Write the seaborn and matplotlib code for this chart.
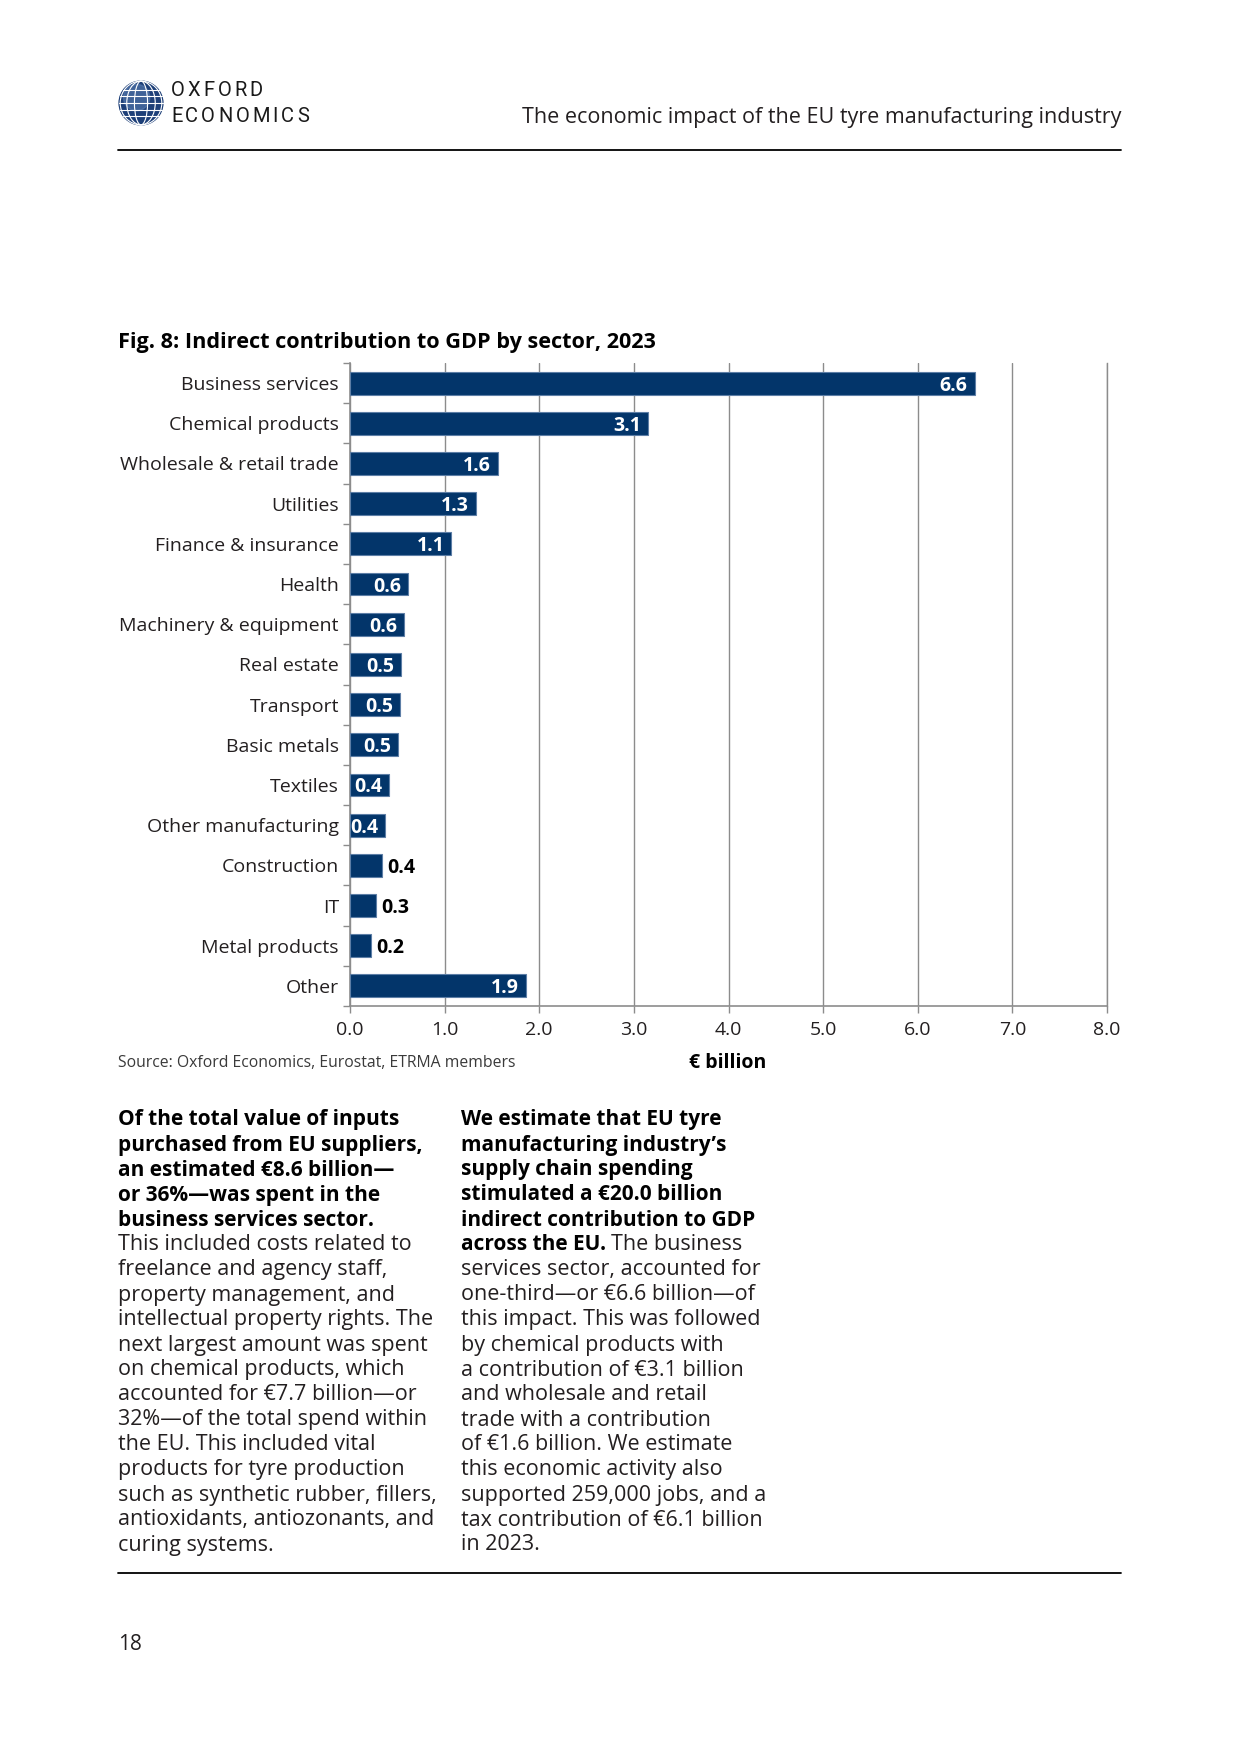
import matplotlib
matplotlib.use("Agg")
import matplotlib.pyplot as plt
from matplotlib.patches import Circle, Ellipse
import seaborn as sns
import pandas as pd

# ---------------- data ----------------
categories = ["Business services", "Chemical products", "Wholesale & retail trade",
              "Utilities", "Finance & insurance", "Health", "Machinery & equipment",
              "Real estate", "Transport", "Basic metals", "Textiles",
              "Other manufacturing", "Construction", "IT", "Metal products", "Other"]
values = [6.6, 3.15, 1.56, 1.33, 1.07, 0.61, 0.57, 0.54, 0.53, 0.51, 0.41,
          0.37, 0.34, 0.27, 0.22, 1.86]
value_labels = ["6.6", "3.1", "1.6", "1.3", "1.1", "0.6", "0.6", "0.5", "0.5",
                "0.5", "0.4", "0.4", "0.4", "0.3", "0.2", "1.9"]
label_inside = [True] * 12 + [False, False, False, True]
x_ticks = [0, 1, 2, 3, 4, 5, 6, 7, 8]
x_ticklabels = ["0.0", "1.0", "2.0", "3.0", "4.0", "5.0", "6.0", "7.0", "8.0"]

title = "Fig. 8: Indirect contribution to GDP by sector, 2023"
header = "The economic impact of the EU tyre manufacturing industry"
source = "Source: Oxford Economics, Eurostat, ETRMA members"
xlabel = "€ billion"

col1_lines = [
    ("Of the total value of inputs", ""),
    ("purchased from EU suppliers,", ""),
    ("an estimated €8.6 billion—", ""),
    ("or 36%—was spent in the", ""),
    ("business services sector.", ""),
    ("", "This included costs related to"),
    ("", "freelance and agency staff,"),
    ("", "property management, and"),
    ("", "intellectual property rights. The"),
    ("", "next largest amount was spent"),
    ("", "on chemical products, which"),
    ("", "accounted for €7.7 billion—or"),
    ("", "32%—of the total spend within"),
    ("", "the EU. This included vital"),
    ("", "products for tyre production"),
    ("", "such as synthetic rubber, fillers,"),
    ("", "antioxidants, antiozonants, and"),
    ("", "curing systems."),
]
col2_lines = [
    ("We estimate that EU tyre", ""),
    ("manufacturing industry’s", ""),
    ("supply chain spending", ""),
    ("stimulated a €20.0 billion", ""),
    ("indirect contribution to GDP", ""),
    ("across the EU.", "The business"),
    ("", "services sector, accounted for"),
    ("", "one-third—or €6.6 billion—of"),
    ("", "this impact. This was followed"),
    ("", "by chemical products with"),
    ("", "a contribution of €3.1 billion"),
    ("", "and wholesale and retail"),
    ("", "trade with a contribution"),
    ("", "of €1.6 billion. We estimate"),
    ("", "this economic activity also"),
    ("", "supported 259,000 jobs, and a"),
    ("", "tax contribution of €6.1 billion"),
    ("", "in 2023."),
]

# ---------------- style ----------------
sns.set_style("white")
FONT = "Open Sans"
plt.rcParams["font.family"] = [FONT, "DejaVu Sans"]
NAVY = "#03356a"
TXT = "#231f20"
GRID = "#8c8c8c"
LOGO_FONT = ["Roboto", "DejaVu Sans"]

W, H = 1240, 1754
fig = plt.figure(figsize=(12.4, 17.54), dpi=100)
renderer = fig.canvas.get_renderer()


def fx(px):
    return px / W


def fy(py):
    return 1 - py / H


# ---------------- header ----------------
logo_ax = fig.add_axes([fx(118), fy(126), fx(46), 46 / H])
logo_ax.set_xlim(-1.05, 1.05)
logo_ax.set_ylim(-1.05, 1.05)
logo_ax.set_aspect("equal")
logo_ax.axis("off")
logo_ax.add_patch(Circle((0, 0), 1, color="#1d3f78"))
logo_ax.add_patch(Circle((-0.2, 0.25), 0.6, color="#5c7fb3", alpha=0.55))
for w in [0.3, 0.65, 0.95]:
    logo_ax.add_patch(Ellipse((0, 0), 2 * w, 2, fill=False, ec="white", lw=0.8))
for yy in [-0.6, -0.3, 0.0, 0.3, 0.6]:
    half = (1 - yy ** 2) ** 0.5
    logo_ax.plot([-half, half], [yy, yy], color="white", lw=0.8)


def tracked(word, x_px, y_px, track_px, size):
    x = x_px
    for ch in word:
        t = fig.text(fx(x), fy(y_px), ch, fontsize=size, family=LOGO_FONT,
                     fontweight="normal", color="#1a1a1a", va="center", ha="left")
        x += t.get_window_extent(renderer).width + track_px


tracked("OXFORD", 171, 91, 3.0, 14.5)
tracked("ECONOMICS", 171, 116, 3.0, 14.5)

fig.text(fx(1121), fy(117), header, fontsize=15.5, color=TXT, ha="right",
         va="center")
fig.add_artist(plt.Line2D([fx(118), fx(1121)], [fy(150), fy(150)], color="black", lw=1.3))

# ---------------- title ----------------
fig.text(fx(118), fy(342), title, fontsize=15.6, fontweight="bold", color="black",
         ha="left", va="center")

# ---------------- chart ----------------
ax = fig.add_axes([fx(350), fy(1006), fx(1107) - fx(350), (1006 - 363) / H])
df = pd.DataFrame({"sector": categories, "value": values})
sns.barplot(data=df, x="value", y="sector", orient="h", color=NAVY, width=0.57,
            edgecolor="#5d7ea6", linewidth=0.8, saturation=1, ax=ax, zorder=3)
ax.set_xlim(0, 8)
ax.set_ylim(len(categories) - 0.5, -0.5)
ax.set_xticks(x_ticks)
ax.set_xticklabels(x_ticklabels)
ax.set_xlabel("")
ax.set_ylabel("")
ax.xaxis.grid(True, color=GRID, lw=1.0, zorder=0)
ax.yaxis.grid(False)
ax.spines["top"].set_visible(False)
ax.spines["right"].set_color(GRID)
ax.spines["right"].set_linewidth(1.0)
for s in ["left", "bottom"]:
    ax.spines[s].set_color(GRID)
    ax.spines[s].set_linewidth(1.2)
ax.tick_params(axis="x", length=5, width=1, color=GRID, pad=6, labelsize=14,
               labelcolor=TXT, bottom=True)
ax.tick_params(axis="y", length=0, pad=8, labelsize=14, labelcolor=TXT)
ax.set_yticks([i + 0.5 for i in range(-1, len(categories))], minor=True)
ax.tick_params(axis="y", which="minor", length=5, width=1, color=GRID, left=True)

for i, (v, lab, inside) in enumerate(zip(values, value_labels, label_inside)):
    if inside:
        ax.annotate(lab, (v, i), xytext=(-5, 0), textcoords="offset points",
                    ha="right", va="center_baseline", color="white",
                    fontweight="bold", fontsize=14, zorder=4)
    else:
        ax.annotate(lab, (v, i), xytext=(4, 0), textcoords="offset points",
                    ha="left", va="center_baseline", color="black",
                    fontweight="bold", fontsize=14, zorder=4)

fig.text(fx(118), fy(1063), source, fontsize=11.3, color="#3a3a3a", ha="left",
         va="center")
fig.text(fx(728), fy(1063), xlabel, fontsize=14, color="black", ha="center",
         va="center", fontweight="bold")

# ---------------- body text ----------------
y0, dy = 1120, 25.0
for x0, lines in [(118, col1_lines), (461, col2_lines)]:
    for k, (bold, reg) in enumerate(lines):
        yy = fy(y0 + k * dy)
        if bold:
            t = fig.text(fx(x0), yy, bold, fontsize=15, fontweight="bold",
                         color="black", ha="left", va="center")
            if reg:
                bb = t.get_window_extent(renderer)
                fig.text(bb.x1 / W + fx(5), yy, reg, fontsize=15.5,
                         color=TXT, ha="left", va="center")
        else:
            fig.text(fx(x0), yy, reg, fontsize=15.5, color=TXT,
                     ha="left", va="center")

fig.add_artist(plt.Line2D([fx(118), fx(1121)], [fy(1573), fy(1573)], color="black", lw=1.3))
fig.text(fx(118), fy(1644), "18", fontsize=15, color=TXT, ha="left", va="center")

fig.savefig("out.png", dpi=100)
